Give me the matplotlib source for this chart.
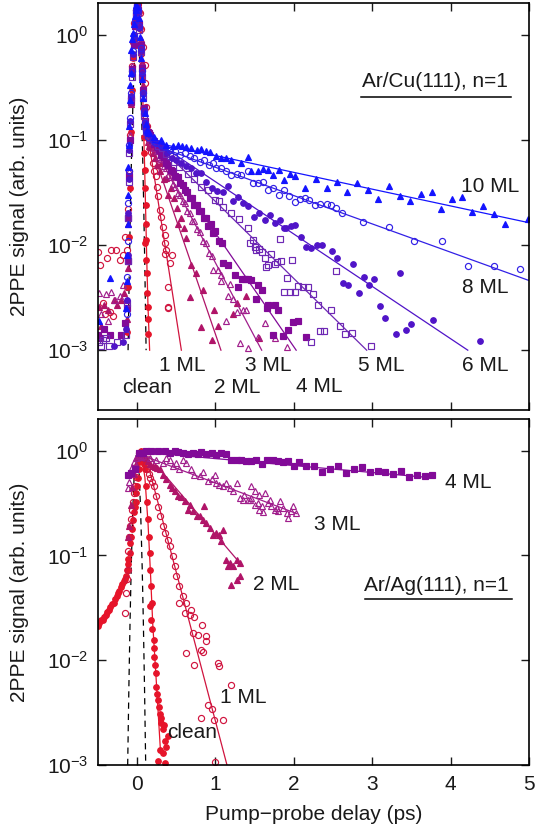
import numpy as np
import matplotlib.pyplot as plt
from matplotlib.ticker import NullLocator

plt.rcParams['font.family'] = ['Liberation Sans', 'DejaVu Sans']
plt.rcParams['mathtext.fontset'] = 'custom'
plt.rcParams['mathtext.rm'] = 'Liberation Sans'
plt.rcParams['mathtext.default'] = 'regular'

# ---------------- Ar/Cu(111): (delay ps, signal) ----------------
cu_clean = [(-0.125, 0.0015), (-0.115, 0.004), (-0.105, 0.012), (-0.095, 0.035), (-0.08, 0.12),
            (-0.065, 0.3), (-0.05, 0.6), (-0.035, 1.0), (-0.02, 1.45), (-0.005, 1.8), (0.01, 1.9),
            (0.025, 1.65), (0.04, 1.15), (0.055, 0.65), (0.065, 0.38), (0.075, 0.2), (0.087, 0.107),
            (0.087, 0.075), (0.096, 0.052), (0.105, 0.035), (0.109, 0.024), (0.109, 0.016),
            (0.117, 0.0112), (0.105, 0.0105), (0.117, 0.0072), (0.125, 0.0054), (0.13, 0.0035),
            (0.138, 0.0026), (0.138, 0.00196), (0.138, 0.00142)]
cu_1ml = [(-0.50, 0.0085), (-0.47, 0.0065), (-0.39, 0.0075), (-0.33, 0.009), (-0.27, 0.009),
          (-0.22, 0.0072), (-0.18, 0.008), (-0.16, 0.012), (-0.41, 0.0022), (-0.35, 0.0023),
          (-0.31, 0.0021), (-0.44, 0.0028),
          (-0.135, 0.004), (-0.125, 0.009), (-0.115, 0.022), (-0.105, 0.05), (-0.095, 0.11),
          (-0.08, 0.25), (-0.065, 0.5), (-0.05, 0.85), (-0.035, 1.3), (-0.02, 1.7), (-0.005, 1.95),
          (0.01, 2.0), (0.032, 1.61), (0.053, 1.12), (0.075, 0.77), (0.096, 0.52), (0.096, 0.35),
          (0.117, 0.207), (0.13, 0.134), (0.15, 0.1), (0.165, 0.085),
          (0.18, 0.077), (0.20, 0.060), (0.22, 0.050), (0.245, 0.045), (0.26, 0.036), (0.27, 0.029),
          (0.29, 0.0215), (0.31, 0.0186), (0.33, 0.0149), (0.35, 0.0125), (0.35, 0.0104),
          (0.36, 0.0083), (0.37, 0.009), (0.415, 0.0067), (0.44, 0.008), (0.40, 0.004),
          (0.40, 0.0026), (0.39, 0.0025)]
cu_2ml = [(-0.49, 0.0026), (-0.46, 0.0017), (-0.42, 0.0027), (-0.37, 0.0024), (-0.30, 0.0030),
          (-0.25, 0.0027), (-0.20, 0.0030), (-0.17, 0.0035),
          (-0.13, 0.002), (-0.12, 0.006), (-0.11, 0.016), (-0.10, 0.045), (-0.09, 0.1),
          (-0.075, 0.22), (-0.06, 0.45), (-0.045, 0.8), (-0.03, 1.2), (-0.015, 1.55), (0.0, 1.8),
          (0.015, 1.75), (0.03, 1.35), (0.045, 0.9), (0.06, 0.55), (0.075, 0.33), (0.09, 0.2),
          (0.105, 0.14), (0.12, 0.11), (0.135, 0.095), (0.15, 0.088),
          (0.17, 0.085), (0.2, 0.075), (0.23, 0.067), (0.26, 0.058), (0.29, 0.05), (0.31, 0.06),
          (0.34, 0.042), (0.37, 0.043), (0.40, 0.03), (0.43, 0.0347), (0.47, 0.0278),
          (0.51, 0.0223), (0.52, 0.016), (0.56, 0.018), (0.60, 0.0144), (0.63, 0.0116),
          (0.67, 0.0032), (0.69, 0.0065), (0.75, 0.0054), (0.82, 0.00167), (0.84, 0.0037),
          (0.95, 0.00125), (0.98, 0.0024), (1.03, 0.0017), (1.22, 0.0022), (1.27, 0.0028),
          (1.39, 0.0033), (1.56, 0.0013)]
cu_3ml = [(-0.49, 0.0035), (-0.40, 0.0034), (-0.33, 0.0036), (-0.28, 0.0030), (-0.22, 0.0033),
          (-0.46, 0.0022), (-0.37, 0.0019), (-0.18, 0.0042),
          (-0.13, 0.003), (-0.12, 0.008), (-0.11, 0.02), (-0.10, 0.05), (-0.09, 0.11),
          (-0.075, 0.25), (-0.06, 0.5), (-0.045, 0.85), (-0.03, 1.25), (-0.015, 1.6), (0.0, 1.85),
          (0.015, 1.7), (0.03, 1.3), (0.045, 0.85), (0.06, 0.5), (0.075, 0.3), (0.09, 0.19),
          (0.105, 0.14), (0.12, 0.12), (0.135, 0.11), (0.15, 0.105),
          (0.16, 0.10), (0.19, 0.096), (0.22, 0.083), (0.25, 0.079), (0.28, 0.068), (0.31, 0.066),
          (0.34, 0.056), (0.37, 0.054), (0.40, 0.046), (0.43, 0.044), (0.46, 0.038), (0.49, 0.036),
          (0.52, 0.031), (0.55, 0.030), (0.58, 0.026), (0.61, 0.025), (0.64, 0.021), (0.67, 0.020),
          (0.70, 0.017), (0.73, 0.0168), (0.76, 0.0142), (0.80, 0.0134), (0.84, 0.0108),
          (0.88, 0.0104), (0.92, 0.0084), (0.96, 0.0079), (0.97, 0.0058), (1.03, 0.0058),
          (1.075, 0.0052), (1.07, 0.0045), (1.14, 0.0019), (1.16, 0.0033), (1.18, 0.0043),
          (1.22, 0.0031), (1.27, 0.0023), (1.31, 0.00117), (1.35, 0.0024), (1.39, 0.0024),
          (1.41, 0.00106), (1.54, 0.00134), (1.63, 0.0018), (1.76, 0.0013), (1.91, 0.00107)]
cu_4ml = [(-0.50, 0.0014), (-0.47, 0.0013), (-0.42, 0.0016), (-0.35, 0.0014), (-0.2, 0.0014),
          (-0.15, 0.0018),
          (-0.13, 0.0025), (-0.12, 0.007), (-0.11, 0.018), (-0.10, 0.045), (-0.09, 0.1),
          (-0.075, 0.23), (-0.06, 0.47), (-0.045, 0.82), (-0.03, 1.2), (-0.015, 1.55), (0.0, 1.8),
          (0.015, 1.7), (0.03, 1.25), (0.045, 0.8), (0.06, 0.48), (0.075, 0.3), (0.09, 0.2),
          (0.105, 0.15), (0.12, 0.13), (0.135, 0.12), (0.15, 0.115),
          (0.16, 0.11), (0.19, 0.10), (0.22, 0.092), (0.25, 0.085), (0.28, 0.08), (0.31, 0.071),
          (0.34, 0.068), (0.37, 0.06), (0.40, 0.058), (0.43, 0.052), (0.46, 0.05), (0.49, 0.045),
          (0.52, 0.044), (0.55, 0.039), (0.58, 0.037), (0.61, 0.033), (0.64, 0.032), (0.67, 0.028),
          (0.70, 0.028), (0.73, 0.024), (0.76, 0.024), (0.79, 0.021), (0.82, 0.021), (0.85, 0.018),
          (0.88, 0.018), (0.91, 0.015), (0.94, 0.016), (0.97, 0.013), (1.00, 0.0135),
          (1.04, 0.011), (1.08, 0.0105), (1.10, 0.0067), (1.16, 0.0065), (1.25, 0.0052),
          (1.29, 0.0040), (1.34, 0.0047), (1.38, 0.0048), (1.42, 0.0047), (1.46, 0.0046),
          (1.52, 0.0031), (1.54, 0.0042), (1.59, 0.0037), (1.66, 0.0025), (1.67, 0.0027),
          (1.73, 0.0014), (1.76, 0.0027), (1.80, 0.0024), (1.86, 0.00136), (1.93, 0.00155),
          (1.99, 0.00186), (2.05, 0.0019), (2.16, 0.00132)]
cu_5ml = [(-0.49, 0.0012), (-0.46, 0.0011), (-0.44, 0.00125), (-0.40, 0.0013), (-0.36, 0.0011),
          (-0.25, 0.0012), (-0.14, 0.0014), (-0.13, 0.0028),
          (-0.12, 0.007), (-0.113, 0.018), (-0.106, 0.04), (-0.1, 0.075), (-0.09, 0.14),
          (-0.08, 0.25), (-0.068, 0.4), (-0.056, 0.62), (-0.044, 0.9), (-0.03, 1.25),
          (-0.015, 1.6), (0.0, 1.8), (0.015, 1.6), (0.03, 1.1), (0.045, 0.68), (0.06, 0.4),
          (0.075, 0.25), (0.09, 0.17), (0.105, 0.135), (0.12, 0.118), (0.14, 0.11),
          (0.17, 0.105), (0.22, 0.097), (0.27, 0.088), (0.32, 0.083), (0.37, 0.074), (0.42, 0.070),
          (0.47, 0.062), (0.54, 0.055), (0.65, 0.047), (0.73, 0.042), (0.82, 0.036), (0.90, 0.033),
          (0.99, 0.027), (1.05, 0.026), (1.10, 0.023), (1.2, 0.020), (1.3, 0.0175), (1.42, 0.0144),
          (1.44, 0.0104), (1.48, 0.0112), (1.50, 0.0096), (1.52, 0.0089), (1.56, 0.0091),
          (1.59, 0.0086), (1.63, 0.0075), (1.65, 0.0062), (1.67, 0.0064), (1.71, 0.0082),
          (1.76, 0.0066), (1.78, 0.0069), (1.82, 0.0113), (1.84, 0.0070), (1.88, 0.0036),
          (1.91, 0.0049), (1.95, 0.0036), (1.98, 0.0072), (2.01, 0.0036), (2.05, 0.0041),
          (2.12, 0.0040), (2.18, 0.0040), (2.22, 0.0012), (2.25, 0.0034), (2.31, 0.0027),
          (2.34, 0.00153), (2.38, 0.00153), (2.48, 0.0024), (2.54, 0.0057), (2.59, 0.0017),
          (2.65, 0.00141), (2.74, 0.00146), (2.98, 0.0011)]
cu_6ml = [(-0.3, 0.0011), (-0.18, 0.0012), (-0.14, 0.0016), (-0.13, 0.0030),
          (-0.12, 0.008), (-0.113, 0.02), (-0.106, 0.042), (-0.1, 0.08), (-0.09, 0.15),
          (-0.08, 0.26), (-0.068, 0.42), (-0.056, 0.65), (-0.044, 0.95), (-0.03, 1.3),
          (-0.015, 1.65), (0.0, 1.85), (0.015, 1.65), (0.03, 1.15), (0.045, 0.7), (0.06, 0.42),
          (0.075, 0.27), (0.09, 0.18), (0.105, 0.14), (0.12, 0.12), (0.14, 0.115),
          (0.17, 0.11), (0.22, 0.1), (0.27, 0.093), (0.32, 0.085), (0.38, 0.075), (0.44, 0.0668),
          (0.50, 0.064), (0.56, 0.060), (0.62, 0.056), (0.69, 0.0537), (0.75, 0.048),
          (0.82, 0.0482), (0.88, 0.040), (0.95, 0.0347), (1.02, 0.0329), (1.10, 0.0322),
          (1.16, 0.0365), (1.22, 0.0262), (1.29, 0.0285), (1.35, 0.0249), (1.42, 0.0235),
          (1.49, 0.0186), (1.56, 0.020), (1.63, 0.0173), (1.69, 0.0193), (1.76, 0.0163),
          (1.82, 0.0173), (1.88, 0.0144), (1.90, 0.0146), (1.96, 0.0152), (2.02, 0.0154),
          (2.09, 0.0118), (2.16, 0.0096), (2.22, 0.0094), (2.29, 0.0099), (2.36, 0.0101),
          (2.49, 0.0088), (2.55, 0.0075), (2.63, 0.0044), (2.69, 0.0042), (2.76, 0.0066),
          (2.83, 0.0035), (2.90, 0.0050), (2.96, 0.0042), (3.02, 0.0047), (3.10, 0.00264),
          (3.16, 0.00203), (3.30, 0.00144), (3.36, 0.0054), (3.43, 0.00155), (3.50, 0.00176),
          (3.77, 0.00193), (4.37, 0.00122)]
cu_8ml = [(-0.13, 0.0022), (-0.125, 0.005),
          (-0.12, 0.011), (-0.113, 0.025), (-0.106, 0.05), (-0.1, 0.09), (-0.09, 0.16),
          (-0.08, 0.28), (-0.068, 0.45), (-0.056, 0.7), (-0.044, 1.0), (-0.03, 1.35),
          (-0.015, 1.7), (0.0, 1.9), (0.015, 1.7), (0.03, 1.2), (0.045, 0.75), (0.06, 0.45),
          (0.075, 0.28), (0.09, 0.19), (0.105, 0.145), (0.12, 0.125), (0.13, 0.115),
          (0.14, 0.107), (0.2, 0.1), (0.245, 0.093), (0.30, 0.09), (0.35, 0.0863), (0.42, 0.08),
          (0.48, 0.0776), (0.55, 0.072), (0.61, 0.0747), (0.67, 0.07), (0.73, 0.0668), (0.80, 0.062),
          (0.86, 0.0645), (0.92, 0.058), (0.97, 0.060), (1.01, 0.0537), (1.07, 0.054), (1.14, 0.051),
          (1.20, 0.0464), (1.27, 0.0474), (1.33, 0.0464), (1.41, 0.0507), (1.48, 0.0392),
          (1.54, 0.0392), (1.61, 0.0401), (1.67, 0.0334), (1.74, 0.0347), (1.81, 0.030),
          (1.87, 0.0334), (1.94, 0.029), (2.01, 0.0259), (2.08, 0.0272), (2.14, 0.0278),
          (2.20, 0.0268), (2.27, 0.024), (2.34, 0.0245), (2.42, 0.0245), (2.48, 0.024),
          (2.54, 0.0223), (2.61, 0.020), (2.88, 0.0167), (3.21, 0.0149), (3.54, 0.0108),
          (3.89, 0.011), (4.22, 0.0063), (4.56, 0.0063), (4.89, 0.0059)]
cu_10ml = [(-0.49, 0.0019), (-0.34, 0.0049), (-0.14, 0.0025), (-0.13, 0.0045),
           (-0.125, 0.008), (-0.12, 0.016), (-0.115, 0.03), (-0.11, 0.055), (-0.105, 0.09),
           (-0.10, 0.134), (-0.096, 0.24), (-0.085, 0.33), (-0.074, 0.43), (-0.074, 0.72),
           (-0.06, 0.9), (-0.054, 1.04), (-0.04, 1.25), (-0.03, 1.49), (-0.02, 1.7),
           (-0.01, 1.93), (0.005, 1.85), (0.02, 1.45), (0.035, 0.95), (0.05, 0.6), (0.065, 0.38),
           (0.08, 0.25), (0.095, 0.18), (0.11, 0.14), (0.125, 0.125), (0.14, 0.12),
           (0.15, 0.115), (0.22, 0.107), (0.31, 0.10), (0.37, 0.0896), (0.46, 0.087), (0.52, 0.09),
           (0.57, 0.087), (0.63, 0.085), (0.69, 0.083), (0.76, 0.08), (0.82, 0.082), (0.88, 0.078),
           (0.93, 0.077), (1.01, 0.0705), (1.075, 0.0669), (1.14, 0.0669), (1.20, 0.0645),
           (1.33, 0.060), (1.41, 0.0684), (1.46, 0.050), (1.54, 0.050), (1.61, 0.053),
           (1.67, 0.052), (1.73, 0.046), (1.81, 0.052), (1.87, 0.0416), (1.95, 0.047),
           (2.01, 0.045), (2.14, 0.0347), (2.28, 0.042), (2.42, 0.0347), (2.55, 0.040),
           (2.68, 0.0322), (2.81, 0.0387), (2.95, 0.0334), (3.08, 0.0272), (3.21, 0.0365),
           (3.35, 0.0295), (3.48, 0.0264), (3.62, 0.0306), (3.76, 0.0322), (3.88, 0.0219),
           (4.02, 0.0272), (4.15, 0.0283), (4.28, 0.0207), (4.42, 0.0235), (4.56, 0.0196),
           (4.69, 0.0157), (4.99, 0.0177)]

# fitted curves (Cu)
cu_clean_fit = [(0.06, 0.6), (0.08, 0.16), (0.095, 0.06), (0.11, 0.02), (0.125, 0.0065),
                (0.14, 0.0025), (0.16, 0.001)]
cu_1ml_fit = [(0.16, 0.086), (0.565, 0.001)]
cu_2ml_fit = [(0.15, 0.1), (1.07, 0.001)]
cu_3ml_fit = [(0.17, 0.1), (1.59, 0.001)]
cu_4ml_fit = [(0.18, 0.1), (2.03, 0.001)]
cu_5ml_fit = [(0.2, 0.1), (2.93, 0.001)]
cu_6ml_fit = [(0.2, 0.1), (4.22, 0.001)]
cu_8ml_fit = [(0.2, 0.09), (5.0, 0.0046)]
cu_10ml_fit = [(0.2, 0.095), (5.0, 0.0163)]

# ---------------- Ar/Ag(111) ----------------
ag_clean = [(-0.50, 0.021), (-0.48, 0.0225), (-0.46, 0.024), (-0.44, 0.0243), (-0.42, 0.026),
            (-0.40, 0.027), (-0.38, 0.029), (-0.36, 0.030), (-0.34, 0.032), (-0.32, 0.034),
            (-0.30, 0.035), (-0.28, 0.038), (-0.26, 0.041), (-0.245, 0.0438), (-0.23, 0.046),
            (-0.21, 0.05), (-0.19, 0.053), (-0.17, 0.057), (-0.155, 0.06), (-0.14, 0.064),
            (-0.13, 0.072), (-0.12, 0.082), (-0.11, 0.093), (-0.096, 0.106), (-0.085, 0.13),
            (-0.074, 0.151), (-0.064, 0.18), (-0.054, 0.219), (-0.04, 0.26), (-0.03, 0.29),
            (-0.02, 0.32), (-0.01, 0.39), (0.0, 0.46), (0.01, 0.55), (0.02, 0.66), (0.03, 0.78),
            (0.045, 0.98), (0.06, 0.95), (0.075, 0.85), (0.085, 0.75), (0.096, 0.66), (0.11, 0.46),
            (0.125, 0.32), (0.14, 0.22), (0.15, 0.15), (0.16, 0.105), (0.17, 0.073), (0.18, 0.0506),
            (0.19, 0.035), (0.17, 0.0326), (0.18, 0.0243), (0.195, 0.02), (0.21, 0.0157),
            (0.215, 0.013), (0.22, 0.0108), (0.23, 0.009), (0.24, 0.0075), (0.245, 0.0056),
            (0.25, 0.0048), (0.27, 0.0042), (0.28, 0.0036), (0.29, 0.0031), (0.30, 0.0028),
            (0.31, 0.0025), (0.33, 0.0022), (0.34, 0.0024), (0.36, 0.0017), (0.37, 0.0015),
            (0.27, 0.0011), (0.36, 0.00105), (0.33, 0.0013), (0.29, 0.0014), (0.39, 0.0019)]
ag_1ml = [(-0.15, 0.028), (-0.14, 0.044), (-0.13, 0.06), (-0.12, 0.073), (-0.11, 0.11),
          (-0.10, 0.15), (-0.085, 0.19), (-0.074, 0.22), (-0.064, 0.27), (-0.054, 0.32),
          (-0.04, 0.39), (-0.03, 0.46), (-0.02, 0.56), (-0.01, 0.66), (0.01, 0.85), (0.03, 0.95),
          (0.05, 0.97), (0.07, 0.93), (0.09, 0.85), (0.11, 0.75), (0.13, 0.66), (0.15, 0.6),
          (0.17, 0.55), (0.195, 0.5), (0.22, 0.46), (0.245, 0.37), (0.27, 0.29), (0.29, 0.236),
          (0.33, 0.19), (0.36, 0.164), (0.39, 0.141), (0.415, 0.122), (0.46, 0.098),
          (0.48, 0.0785), (0.50, 0.063), (0.54, 0.0506), (0.585, 0.0407), (0.63, 0.035),
          (0.69, 0.030), (0.61, 0.028), (0.73, 0.026), (0.54, 0.035), (0.68, 0.0272),
          (0.83, 0.0218), (0.71, 0.018), (0.78, 0.0175), (0.875, 0.0169), (0.88, 0.0151),
          (0.82, 0.0126), (0.84, 0.0121), (0.63, 0.0117), (1.03, 0.0095), (1.045, 0.0088),
          (0.72, 0.009), (1.20, 0.0058), (0.90, 0.0037), (0.95, 0.0034), (0.82, 0.0028),
          (0.98, 0.0027), (1.10, 0.0027), (0.99, 0.00108)]
ag_2ml = [(-0.12, 0.15), (-0.10, 0.19), (-0.08, 0.3), (-0.06, 0.45), (-0.04, 0.6), (-0.02, 0.75),
          (0.0, 0.85), (0.02, 0.9), (0.05, 0.93), (0.08, 0.88), (0.11, 0.85), (0.14, 0.8),
          (0.17, 0.75), (0.2, 0.72), (0.23, 0.7), (0.26, 0.68), (0.29, 0.66), (0.33, 0.58),
          (0.37, 0.53), (0.415, 0.47), (0.44, 0.44), (0.48, 0.41), (0.52, 0.37), (0.56, 0.36),
          (0.61, 0.33), (0.65, 0.273), (0.68, 0.3), (0.71, 0.263), (0.76, 0.236), (0.8, 0.24),
          (0.84, 0.219), (0.86, 0.294), (0.88, 0.204), (0.93, 0.183), (0.97, 0.158), (1.01, 0.164),
          (1.05, 0.158), (1.075, 0.136), (1.10, 0.176), (1.14, 0.091), (1.18, 0.0845),
          (1.22, 0.0785), (1.27, 0.091), (1.31, 0.0845), (1.16, 0.0785), (1.20, 0.0525),
          (1.27, 0.0586), (1.31, 0.063)]
ag_3ml = [(-0.12, 0.44), (-0.10, 0.5), (-0.08, 0.6), (-0.06, 0.7), (-0.04, 0.78), (-0.02, 0.84),
          (0.0, 0.88), (0.03, 0.9), (0.05, 0.87), (0.075, 0.88), (0.16, 0.85), (0.245, 0.82),
          (0.33, 0.76), (0.37, 0.85), (0.415, 0.82), (0.46, 0.71), (0.50, 0.76), (0.54, 0.66),
          (0.585, 0.82), (0.63, 0.76), (0.69, 0.66), (0.73, 0.59), (0.80, 0.57), (0.84, 0.63),
          (0.90, 0.51), (0.95, 0.53), (0.99, 0.59), (1.01, 0.49), (1.05, 0.47), (1.10, 0.456),
          (1.14, 0.49), (1.18, 0.44), (1.22, 0.41), (1.27, 0.49), (1.31, 0.353), (1.35, 0.34),
          (1.37, 0.38), (1.42, 0.34), (1.44, 0.34), (1.46, 0.456), (1.46, 0.353), (1.50, 0.41),
          (1.50, 0.305), (1.54, 0.316), (1.56, 0.38), (1.56, 0.273), (1.59, 0.294), (1.61, 0.258),
          (1.63, 0.39), (1.67, 0.316), (1.69, 0.34), (1.71, 0.294), (1.76, 0.273), (1.78, 0.284),
          (1.80, 0.263), (1.82, 0.328), (1.86, 0.283), (1.91, 0.254), (1.93, 0.228), (1.97, 0.263),
          (1.99, 0.294), (2.03, 0.254)]
ag_4ml = [(-0.12, 0.59), (-0.074, 0.61), (-0.03, 0.66), (0.03, 0.95), (0.075, 0.95), (0.12, 1.0),
          (0.18, 0.98), (0.27, 0.98), (0.35, 0.98), (0.415, 0.95), (0.48, 0.98), (0.52, 0.97),
          (0.585, 0.95), (0.65, 0.93), (0.71, 0.95), (0.78, 0.93), (0.82, 0.96), (0.88, 0.92),
          (0.95, 0.95), (1.01, 0.90), (1.075, 0.95), (1.14, 0.93), (1.20, 0.81), (1.27, 0.82),
          (1.33, 0.82), (1.39, 0.79), (1.46, 0.79), (1.52, 0.82), (1.59, 0.74), (1.66, 0.82),
          (1.73, 0.82), (1.80, 0.79), (1.86, 0.78), (1.93, 0.79), (2.0, 0.72), (2.06, 0.77),
          (2.16, 0.71), (2.26, 0.72), (2.36, 0.625), (2.46, 0.66), (2.56, 0.72), (2.67, 0.61),
          (2.77, 0.67), (2.87, 0.70), (2.97, 0.625), (3.07, 0.635), (3.17, 0.625), (3.27, 0.60),
          (3.37, 0.644), (3.47, 0.56), (3.57, 0.58), (3.67, 0.57), (3.76, 0.59)]

# fitted curves (Ag)
ag_clean_fit = [(0.05, 0.98), (0.1, 0.55), (0.14, 0.2), (0.17, 0.07), (0.2, 0.022),
                (0.25, 0.0055), (0.30, 0.0013)]
ag_1ml_fit = [(0.1, 0.95), (1.147, 0.001)]
ag_2ml_fit = [(0.15, 0.88), (1.33, 0.0815)]
ag_3ml_fit = [(0.1, 0.88), (2.04, 0.25)]
ag_4ml_fit = [(0.05, 0.97), (3.78, 0.548)]

# pump-probe cross-correlation (dashed)
xc_t = [-0.115, -0.1, -0.085, -0.07, -0.05, -0.03, 0.0, 0.03, 0.05, 0.07, 0.085, 0.1, 0.115]
xc_y = [0.001, 0.0054, 0.023, 0.077, 0.27, 0.63, 1.0, 0.63, 0.27, 0.077, 0.023, 0.0054, 0.001]

c_clean = '#e6142a'
c_1ml = '#d0143e'
c_2ml = '#b01468'
c_3ml = '#a01e8c'
c_4ml = '#820a98'
c_5ml = '#6e28b4'
c_6ml = '#5014c8'
c_8ml = '#3220e6'
c_10ml = '#1414ff'


def draw_set(ax, pts, color, marker, filled, ms):
    a = np.array(pts)
    ax.plot(a[:, 0], a[:, 1], ls='none', marker=marker, ms=ms, mec=color,
            mfc=color if filled else 'none', mew=0.85)


def draw_fit(ax, pts, color):
    a = np.array(pts)
    ax.plot(a[:, 0], a[:, 1], color=color, lw=0.9)


fig = plt.figure(figsize=(5.35, 8.35), dpi=100)
ax1 = fig.add_axes([0.183, 0.509, 0.8056, 0.4874])
ax2 = fig.add_axes([0.183, 0.0838, 0.8056, 0.4144])

# top panel
ax1.plot(xc_t, xc_y, color='k', lw=0.9, ls=(0, (5, 4)))
top_sets = [(cu_clean, cu_clean_fit, c_clean, 'o', True, 4.0),
            (cu_1ml, cu_1ml_fit, c_1ml, 'o', False, 4.4),
            (cu_2ml, cu_2ml_fit, c_2ml, '^', True, 4.6),
            (cu_3ml, cu_3ml_fit, c_3ml, '^', False, 5.0),
            (cu_4ml, cu_4ml_fit, c_4ml, 's', True, 4.0),
            (cu_5ml, cu_5ml_fit, c_5ml, 's', False, 4.4),
            (cu_6ml, cu_6ml_fit, c_6ml, 'o', True, 4.0),
            (cu_8ml, cu_8ml_fit, c_8ml, 'o', False, 4.4),
            (cu_10ml, cu_10ml_fit, c_10ml, '^', True, 4.6)]
for pts, fit, col, mk, filled, ms in top_sets:
    draw_fit(ax1, fit, col)
    draw_set(ax1, pts, col, mk, filled, ms)

# bottom panel
ax2.plot(np.array(xc_t) - 0.005, xc_y, color='k', lw=0.9, ls=(0, (5, 4)))
bot_sets = [(ag_clean, ag_clean_fit, c_clean, 'o', True, 4.0),
            (ag_1ml, ag_1ml_fit, c_1ml, 'o', False, 4.4),
            (ag_2ml, ag_2ml_fit, c_2ml, '^', True, 4.6),
            (ag_3ml, ag_3ml_fit, c_3ml, '^', False, 5.0),
            (ag_4ml, ag_4ml_fit, c_4ml, 's', True, 4.0)]
for pts, fit, col, mk, filled, ms in bot_sets:
    draw_fit(ax2, fit, col)
    draw_set(ax2, pts, col, mk, filled, ms)

for ax in (ax1, ax2):
    ax.set_yscale('log')
    ax.set_xlim(-0.5, 5)
    ax.set_xticks(range(6))
    ax.yaxis.set_minor_locator(NullLocator())
    ax.tick_params(direction='in', top=True, right=True, length=6, width=1,
                   labelsize=15, pad=7, colors='#1a1a1a')
    for s in ax.spines.values():
        s.set_linewidth(1.2)
    ax.set_ylabel('2PPE signal (arb. units)', fontsize=15, color='#1a1a1a')
    ax.yaxis.set_label_coords(-0.16, 0.5)

ax1.set_ylim(2.7e-4, 2.0)
ax2.set_ylim(1e-3, 2.0)
ax1.tick_params(labelbottom=False)
ax2.set_xlabel('Pump\u2212probe delay (ps)', fontsize=15, color='#1a1a1a')
ax2.xaxis.set_label_coords(0.5, -0.115)

txt = dict(fontsize=15, ha='center', va='center', color='#1a1a1a')
for s, x, y in [('10 ML', 4.50, 0.0357), ('8 ML', 4.44, 0.00398), ('6 ML', 4.44, 7.2e-4),
                ('5 ML', 3.11, 7.2e-4), ('4 ML', 2.33, 4.5e-4), ('3 ML', 1.67, 7.2e-4),
                ('2 ML', 1.28, 4.45e-4), ('1 ML', 0.57, 7.2e-4), ('clean', 0.134, 4.45e-4)]:
    ax1.text(x, y, s, **txt)
for s, x, y in [('4 ML', 4.22, 0.495), ('3 ML', 2.55, 0.196), ('2 ML', 1.78, 0.0525),
                ('1 ML', 1.35, 0.00438), ('clean', 0.70, 0.00203)]:
    ax2.text(x, y, s, **txt)

ax1.text(0.783, 0.806, 'Ar/Cu(111), n=1', transform=ax1.transAxes, **txt)
ax1.plot([0.61, 0.958], [0.769, 0.769], transform=ax1.transAxes, color='k', lw=1.1)
ax2.text(0.785, 0.52, 'Ar/Ag(111), n=1', transform=ax2.transAxes, **txt)
ax2.plot([0.619, 0.961], [0.48, 0.48], transform=ax2.transAxes, color='k', lw=1.1)

fig.savefig('out.png', dpi=100)
